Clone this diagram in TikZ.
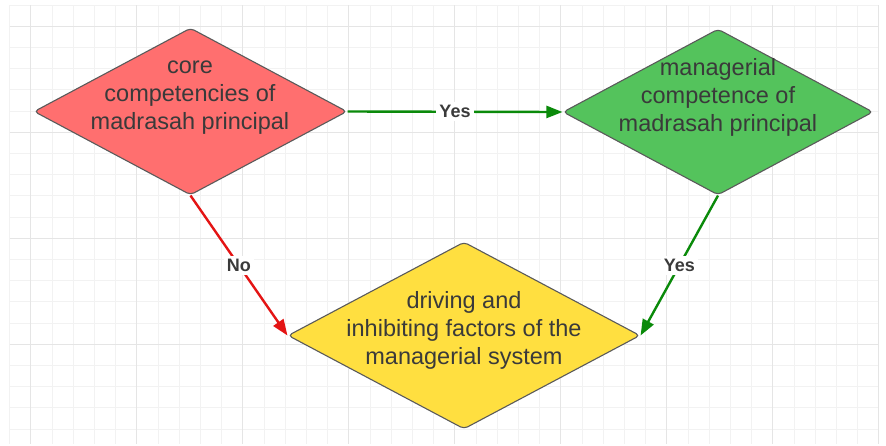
\documentclass[tikz,border=0pt]{standalone}
\usepackage{fontspec}
\setmainfont{Liberation Sans}
\usetikzlibrary{shapes.geometric,arrows.meta}
\definecolor{minorgrid}{HTML}{F2F2F2}
\definecolor{majorgrid}{HTML}{E5E5E5}
\definecolor{redfill}{HTML}{FF6F6F}
\definecolor{greenfill}{HTML}{54C35C}
\definecolor{yellowfill}{HTML}{FFDF40}
\definecolor{bordergray}{HTML}{5A5A5A}
\definecolor{textgray}{HTML}{3A3A3A}
\definecolor{arrowgreen}{HTML}{0A8A0A}
\definecolor{arrowred}{HTML}{E41414}
\tikzset{
  minorline/.style={draw=minorgrid, line width=0.8pt},
  majorline/.style={draw=majorgrid, line width=1pt},
  decision/.style={diamond, draw=bordergray, line width=1.1pt, inner sep=0pt, rounded corners=4pt},
  boxtext/.style={align=center, text=textgray, font=\fontsize{23.5}{28}\selectfont, inner sep=0pt},
  conn/.style={line width=2.4pt, -{Triangle[length=16pt,width=12pt]}},
  lbl/.style={fill=white, text=textgray, font=\bfseries\fontsize{18}{20}\selectfont, inner sep=3pt},
}
\begin{document}
\begin{tikzpicture}[x=1pt,y=-1pt]
\useasboundingbox (0,0) rectangle (886,445);
\fill[white] (0,0) rectangle (886,445);
% grid
\foreach \i in {0,...,41} {
  \draw[minorline] ({9.6+21.2*\i},5) -- ({9.6+21.2*\i},444);
}
\foreach \j in {0,...,20} {
  \draw[minorline] (9.6,{5+21.2*\j}) -- (878.8,{5+21.2*\j});
}
\foreach \i in {1,6,...,41} {
  \draw[majorline] ({9.6+21.2*\i},5) -- ({9.6+21.2*\i},444);
}
\foreach \j in {1,6,...,20} {
  \draw[majorline] (9.6,{5+21.2*\j}) -- (878.8,{5+21.2*\j});
}
% diamonds
\node[decision, fill=redfill, minimum width=313pt, minimum height=167pt] (core) at (190.5,111.5) {};
\node[decision, fill=greenfill, minimum width=310pt, minimum height=166pt] (mgr) at (718,112) {};
\node[decision, fill=yellowfill, minimum width=352pt, minimum height=187pt] (fac) at (464,335.5) {};
\node[boxtext] (coret) at (190,98) {core\\competencies of\\madrasah principal};
\node[boxtext] (mgrt) at (718,97) {managerial\\competence of\\madrasah principal};
\node[boxtext] (fact) at (464,330) {driving and\\inhibiting factors of the\\managerial system};
% connectors
\draw[conn, draw=arrowgreen, fill=arrowgreen] (core.east) -- node[lbl] (l1) {Yes} (mgr.west);
\draw[conn, draw=arrowred, fill=arrowred] (core.south) -- node[lbl] (l2) {No} (fac.west);
\draw[conn, draw=arrowgreen, fill=arrowgreen] (mgr.south) -- node[lbl] (l3) {Yes} (fac.east);
\end{tikzpicture}
\end{document}
